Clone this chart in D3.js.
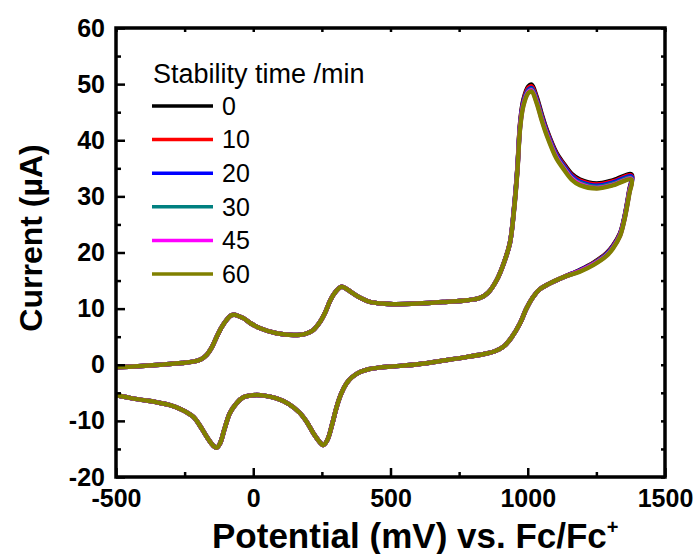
<!DOCTYPE html>
<html>
<head>
<meta charset="utf-8">
<script src="https://cdn.jsdelivr.net/npm/d3@7"></script>
<style>
  body { margin: 0; background: #fff; }
  svg { display: block; }
  .tick text { font-family: "Liberation Sans", Arial, sans-serif; font-weight: bold; font-size: 25px; fill: #000; }
  .tick line { stroke: #000; stroke-width: 2.5; }
</style>
</head>
<body>
<svg id="chart" width="699" height="554"></svg>
<script>
// potential (mV) of the cycle: forward scan then reverse scan
const potential = [
  -500, -420, -340, -260, -219, -190, -170, -150, -133, -115, -97, -80, -68, -50, -36, -10,
  25, 85, 146, 190, 219, 243, 262, 280, 300, 322, 340, 364, 395, 425, 470, 510,
  600, 700, 780, 826, 855, 887, 912, 935, 950, 962, 972, 984, 1002, 1014, 1032, 1050,
  1069, 1105, 1130, 1160, 1190, 1251, 1312, 1378,
  1370, 1352, 1336, 1310, 1287, 1240, 1190, 1130, 1069, 1040, 1020, 995, 972, 940, 911, 880,
  850, 780, 700, 600, 535, 460, 420, 389, 360, 340, 320, 304, 288, 270, 255, 241,
  219, 195, 170, 130, 85, 40, 12, -12, -36, -60, -85, -105, -121, -134, -148, -170,
  -195, -218, -260, -303, -350, -400, -450, -500
];

// current (uA) for each stability time
const current0 = [
  -0.45, -0.25, 0.0, 0.3, 0.55, 1.0, 1.75, 3.2, 5.0, 6.7, 8.0, 8.8, 8.9, 8.6, 8.3, 7.4,
  6.5, 5.6, 5.3, 5.5, 6.2, 7.6, 9.3, 11.4, 13.0, 13.9, 13.5, 12.7, 11.8, 11.2, 10.9, 10.8,
  10.9, 11.2, 11.5, 11.9, 12.8, 15.1, 18.0, 21.7, 28.0, 35.0, 43.0, 47.2, 49.6, 49.9, 47.8, 44.8,
  41.9, 37.7, 35.9, 34.0, 33.0, 32.3, 32.9, 33.9,
  31.2, 26.3, 23.4, 21.2, 19.9, 18.2, 16.9, 15.6, 14.2, 13.3, 12.1, 10.0, 7.4, 4.8, 3.2, 2.4,
  2.0, 1.4, 0.8, 0.1, -0.2, -0.5, -0.8, -1.3, -2.2, -3.3, -5.2, -7.5, -10.5, -13.4, -14.3, -13.7,
  -12.2, -10.2, -8.6, -7.0, -6.0, -5.5, -5.4, -5.5, -5.8, -6.8, -8.6, -11.5, -14.0, -14.8, -14.3, -12.8,
  -10.8, -9.3, -8.0, -7.2, -6.7, -6.3, -5.9, -5.4
];
const current10 = [
  -0.45, -0.25, 0.0, 0.3, 0.55, 1.0, 1.75, 3.2, 5.0, 6.7, 8.0, 8.8, 8.9, 8.6, 8.3, 7.4,
  6.5, 5.6, 5.3, 5.5, 6.2, 7.6, 9.3, 11.4, 13.0, 13.9, 13.5, 12.7, 11.8, 11.2, 10.9, 10.8,
  10.9, 11.2, 11.5, 11.9, 12.8, 15.1, 18.0, 21.7, 27.9, 34.8, 42.8, 46.9, 49.3, 49.6, 47.5, 44.5,
  41.7, 37.5, 35.7, 33.8, 32.8, 32.1, 32.7, 33.7,
  31.0, 26.2, 23.3, 21.1, 19.8, 18.1, 16.8, 15.6, 14.2, 13.3, 12.1, 10.0, 7.4, 4.8, 3.2, 2.4,
  2.0, 1.4, 0.8, 0.1, -0.2, -0.5, -0.8, -1.3, -2.2, -3.3, -5.2, -7.5, -10.5, -13.4, -14.3, -13.7,
  -12.2, -10.2, -8.6, -7.0, -6.0, -5.5, -5.4, -5.5, -5.8, -6.8, -8.6, -11.5, -14.0, -14.8, -14.3, -12.8,
  -10.8, -9.3, -8.0, -7.2, -6.7, -6.3, -5.9, -5.4
];
const current20 = [
  -0.45, -0.25, 0.0, 0.3, 0.55, 1.0, 1.75, 3.2, 5.0, 6.7, 8.0, 8.8, 8.9, 8.6, 8.3, 7.4,
  6.5, 5.6, 5.3, 5.5, 6.2, 7.6, 9.3, 11.4, 13.0, 13.9, 13.5, 12.7, 11.8, 11.2, 10.9, 10.8,
  10.9, 11.2, 11.5, 11.9, 12.8, 15.1, 18.0, 21.7, 27.8, 34.7, 42.6, 46.7, 49.0, 49.3, 47.3, 44.3,
  41.5, 37.3, 35.5, 33.6, 32.6, 31.9, 32.5, 33.5,
  30.9, 26.1, 23.2, 21.0, 19.7, 18.0, 16.8, 15.6, 14.2, 13.3, 12.1, 10.0, 7.4, 4.8, 3.2, 2.4,
  2.0, 1.4, 0.8, 0.1, -0.2, -0.5, -0.8, -1.3, -2.2, -3.3, -5.2, -7.5, -10.5, -13.4, -14.3, -13.7,
  -12.2, -10.2, -8.6, -7.0, -6.0, -5.5, -5.4, -5.5, -5.8, -6.8, -8.6, -11.5, -14.0, -14.8, -14.3, -12.8,
  -10.8, -9.3, -8.0, -7.2, -6.7, -6.3, -5.9, -5.4
];
const current30 = [
  -0.45, -0.25, 0.0, 0.3, 0.55, 1.0, 1.75, 3.2, 5.0, 6.7, 8.0, 8.8, 8.9, 8.6, 8.3, 7.4,
  6.5, 5.6, 5.3, 5.5, 6.2, 7.6, 9.3, 11.4, 13.0, 13.9, 13.5, 12.7, 11.8, 11.2, 10.9, 10.8,
  10.9, 11.2, 11.5, 11.9, 12.8, 15.1, 18.0, 21.7, 27.7, 34.6, 42.4, 46.5, 48.8, 49.1, 47.1, 44.1,
  41.3, 37.1, 35.3, 33.4, 32.4, 31.7, 32.3, 33.3,
  30.8, 26.0, 23.1, 20.9, 19.6, 18.0, 16.7, 15.6, 14.2, 13.3, 12.1, 10.0, 7.4, 4.8, 3.2, 2.4,
  2.0, 1.4, 0.8, 0.1, -0.2, -0.5, -0.8, -1.3, -2.2, -3.3, -5.2, -7.5, -10.5, -13.4, -14.3, -13.7,
  -12.2, -10.2, -8.6, -7.0, -6.0, -5.5, -5.4, -5.5, -5.8, -6.8, -8.6, -11.5, -14.0, -14.8, -14.3, -12.8,
  -10.8, -9.3, -8.0, -7.2, -6.7, -6.3, -5.9, -5.4
];
const current45 = [
  -0.45, -0.25, 0.0, 0.3, 0.55, 1.0, 1.75, 3.2, 5.0, 6.7, 8.0, 8.8, 8.9, 8.6, 8.3, 7.4,
  6.5, 5.6, 5.3, 5.5, 6.2, 7.6, 9.3, 11.4, 13.0, 13.9, 13.5, 12.7, 11.8, 11.2, 10.9, 10.8,
  10.9, 11.2, 11.5, 11.9, 12.8, 15.1, 18.0, 21.7, 27.6, 34.5, 42.3, 46.3, 48.6, 48.9, 46.9, 43.9,
  41.1, 36.9, 35.1, 33.2, 32.2, 31.5, 32.1, 33.1,
  30.7, 25.9, 23.0, 20.8, 19.5, 17.9, 16.7, 15.6, 14.2, 13.3, 12.1, 10.0, 7.4, 4.8, 3.2, 2.4,
  2.0, 1.4, 0.8, 0.1, -0.2, -0.5, -0.8, -1.3, -2.2, -3.3, -5.2, -7.5, -10.5, -13.4, -14.3, -13.7,
  -12.2, -10.2, -8.6, -7.0, -6.0, -5.5, -5.4, -5.5, -5.8, -6.8, -8.6, -11.5, -14.0, -14.8, -14.3, -12.8,
  -10.8, -9.3, -8.0, -7.2, -6.7, -6.3, -5.9, -5.4
];
const current60 = [
  -0.45, -0.25, 0.0, 0.3, 0.55, 1.0, 1.75, 3.2, 5.0, 6.7, 8.0, 8.8, 8.9, 8.6, 8.3, 7.4,
  6.5, 5.6, 5.3, 5.5, 6.2, 7.6, 9.3, 11.4, 13.0, 13.9, 13.5, 12.7, 11.8, 11.2, 10.9, 10.8,
  10.9, 11.2, 11.5, 11.9, 12.8, 15.1, 18.0, 21.7, 27.5, 34.3, 42.1, 46.1, 48.4, 48.7, 46.7, 43.7,
  40.9, 36.7, 34.9, 33.0, 32.0, 31.4, 32.0, 33.0,
  30.5, 25.8, 22.9, 20.7, 19.4, 17.8, 16.6, 15.6, 14.2, 13.3, 12.1, 10.0, 7.4, 4.8, 3.2, 2.4,
  2.0, 1.4, 0.8, 0.1, -0.2, -0.5, -0.8, -1.3, -2.2, -3.3, -5.2, -7.5, -10.5, -13.4, -14.3, -13.7,
  -12.2, -10.2, -8.6, -7.0, -6.0, -5.5, -5.4, -5.5, -5.8, -6.8, -8.6, -11.5, -14.0, -14.8, -14.3, -12.8,
  -10.8, -9.3, -8.0, -7.2, -6.7, -6.3, -5.9, -5.4
];

const times = ["0", "10", "20", "30", "45", "60"];
const colors = ["#000000", "#ff0000", "#0000ff", "#008080", "#ff00ff", "#808000"];
const currents = [current0, current10, current20, current30, current45, current60];

const xTicks = [-500, 0, 500, 1000, 1500];
const xMinor = [-250, 250, 750, 1250];
const yTicks = [-20, -10, 0, 10, 20, 30, 40, 50, 60];
const yMinor = [-15, -5, 5, 15, 25, 35, 45, 55];

const FONT = '"Liberation Sans", Arial, sans-serif';
const box = { left: 116, right: 665, top: 28, bottom: 477 };

const svg = d3.select("#chart");
const x = d3.scaleLinear().domain([-500, 1500]).range([box.left, box.right]);
const y = d3.scaleLinear().domain([-20, 60]).range([box.bottom, box.top]);

// curves
const line = d3.line()
    .x(d => x(d[0]))
    .y(d => y(d[1]))
    .curve(d3.curveCatmullRom.alpha(0.5));

const curves = svg.append("g");
currents.forEach((cur, i) => {
    const pts = potential.map((p, k) => [p, cur[k]]);
    curves.append("path")
        .attr("d", line(pts))
        .attr("fill", "none")
        .attr("stroke", colors[i])
        .attr("stroke-width", 4.5)
        .attr("stroke-linejoin", "round");
});

// axes: major ticks inward with labels, minor ticks shorter
const plain = d => String(d);   // keep the plain hyphen as in the original
function addAxis(axis, tf) {
    const g = svg.append("g").attr("transform", tf).call(axis);
    g.select(".domain").remove();
    return g;
}
addAxis(d3.axisBottom(x).tickValues(xTicks).tickSize(-9).tickPadding(12).tickFormat(plain),
    `translate(0,${box.bottom})`);
addAxis(d3.axisBottom(x).tickValues(xMinor).tickSize(-5).tickFormat(""), `translate(0,${box.bottom})`);
addAxis(d3.axisLeft(y).tickValues(yTicks).tickSize(-9).tickPadding(11).tickFormat(plain),
    `translate(${box.left},0)`);
addAxis(d3.axisLeft(y).tickValues(yMinor).tickSize(-5).tickFormat(""), `translate(${box.left},0)`);
addAxis(d3.axisTop(x).tickValues(xTicks.concat(xMinor)).tickSize(-4).tickFormat(""), `translate(0,${box.top})`);
addAxis(d3.axisRight(y).tickValues(yTicks.concat(yMinor)).tickSize(-4).tickFormat(""), `translate(${box.right},0)`);

svg.selectAll(".tick text").attr("font-family", null).attr("font-size", null);

// frame
svg.append("rect")
    .attr("x", box.left).attr("y", box.top)
    .attr("width", box.right - box.left).attr("height", box.bottom - box.top)
    .attr("fill", "none").attr("stroke", "#000").attr("stroke-width", 3.5);

// axis titles
const xt = svg.append("text")
    .attr("x", 212).attr("y", 548)
    .style("font-family", FONT).style("font-weight", "bold").style("font-size", "35px");
xt.append("tspan").text("Potential (mV) vs. Fc/Fc");
xt.append("tspan").attr("dy", -14).style("font-size", "20px").text("+");

svg.append("text")
    .attr("transform", "translate(42,238) rotate(-90)")
    .attr("text-anchor", "middle")
    .style("font-family", FONT).style("font-weight", "bold").style("font-size", "32px")
    .text("Current (\u00b5A)");

// legend
svg.append("text")
    .attr("x", 153).attr("y", 83)
    .style("font-family", FONT).style("font-size", "27px")
    .text("Stability time /min");

const leg = svg.append("g").selectAll("g")
    .data(times)
    .join("g")
    .attr("transform", (d, i) => `translate(0,${106 + i * 33.6})`);
leg.append("line")
    .attr("x1", 152).attr("x2", 213)
    .attr("stroke", (d, i) => colors[i])
    .attr("stroke-width", 3.5);
leg.append("text")
    .attr("x", 222).attr("dy", "0.35em")
    .style("font-family", FONT).style("font-size", "25px")
    .text(d => d);
</script>
</body>
</html>
